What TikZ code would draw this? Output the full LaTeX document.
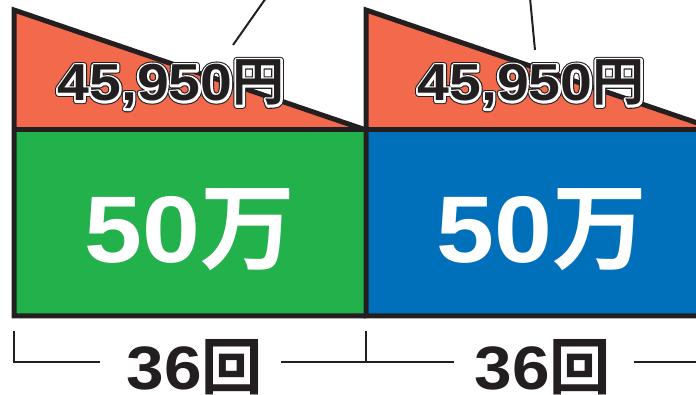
\documentclass[tikz,border=0pt]{standalone}
\usepackage{fontspec}
\newfontfamily\dig{Liberation Sans}[FakeStretch=1.1]
\newfontfamily\jp{Noto Sans CJK JP}[BoldFont={Noto Sans CJK JP Bold}]
\definecolor{tri}{RGB}{242,106,75}
\definecolor{grn}{RGB}{35,177,76}
\definecolor{blu}{RGB}{0,112,187}
\definecolor{ink}{RGB}{35,31,32}
\tikzset{
  frame/.style={draw=ink,line width=3.75pt,line join=miter},
  thin/.style={draw=ink,line width=1.5pt},
  bigtxt/.style={inner sep=0pt,anchor=base,text=white,font=\fontsize{71}{71}\selectfont},
  cnt/.style={inner sep=0pt,anchor=base,text=ink,text depth=0pt,font=\fontsize{46}{46}\selectfont},
  amt/.style={inner sep=0pt,anchor=base,font=\fontsize{39}{39}\selectfont},
}
\newcommand{\amttext}{{\dig\bfseries 45,950}{\jp\bfseries 円}}
\newcommand{\strk}[1]{\special{pdf:literal direct 2 Tr #1 w 1 j}}
\newcommand{\unstrk}{\special{pdf:literal direct 0 Tr}}
\newcommand{\haloamt}[3]{%
  \node[amt,text=ink] at (#1,#2) {\strk{4.8}\amttext\unstrk};
  \node[amt,text=white] at (#1,#2) {\strk{3.2}\amttext\unstrk};
  \node[amt,text=ink] (#3) at (#1,#2) {\amttext};
}
\begin{document}
\begin{tikzpicture}[x=0.75pt,y=-0.75pt]
\useasboundingbox (0,0) rectangle (696,395);
\begin{scope}
\clip (0,0) rectangle (696,395);
% fills
\fill[tri] (14,10) -- (14,130) -- (366,130) -- cycle;
\fill[tri] (366,10) -- (366,130) -- (718,130) -- cycle;
\fill[grn] (14,130) rectangle (366,316);
\fill[blu] (366,130) rectangle (720,316);
% frames
\draw[frame] (366,130) -- (14,10) -- (14,316) -- (366,316);
\draw[frame] (718,130) -- (366,10) -- (366,316) -- (720,316);
\draw[frame] (14,130) -- (720,130);
% pointer lines
\coordinate (p1a) at (266,-2); \coordinate (p1b) at (233,45);
\coordinate (p2a) at (530,-2); \coordinate (p2b) at (535,50);
\draw[thin] (p1a) -- (p1b);
\draw[thin] (p2a) -- (p2b);
% amounts
\haloamt{171}{101}{a1}
\haloamt{531}{101}{a2}
% big text
\node[bigtxt] (b1) at (190,263) {{\dig\bfseries 50}{\jp\bfseries 万}};
\node[bigtxt] (b2) at (542,263) {{\dig\bfseries 50}{\jp\bfseries 万}};
% counts
\node[cnt] (c1) at (195,389) {{\dig\bfseries 36}{\jp\bfseries 回}};
\node[cnt] (c2) at (543,389) {{\dig\bfseries 36}{\jp\bfseries 回}};
% bracket
\coordinate (t1) at (14,331); \coordinate (t1b) at (14,362);
\coordinate (l1) at (100,362); \coordinate (r1) at (281,362);
\coordinate (t2) at (366,331); \coordinate (t2b) at (366,362);
\coordinate (l2) at (454,362); \coordinate (r2) at (634,362);
\coordinate (e2) at (700,362);
\draw[thin] (t1) -- (t1b) -- (l1);
\draw[thin] (r1) -- (t2b) -- (l2);
\draw[thin] (t2) -- (t2b);
\draw[thin] (r2) -- (e2);
\end{scope}
\end{tikzpicture}
\end{document}
